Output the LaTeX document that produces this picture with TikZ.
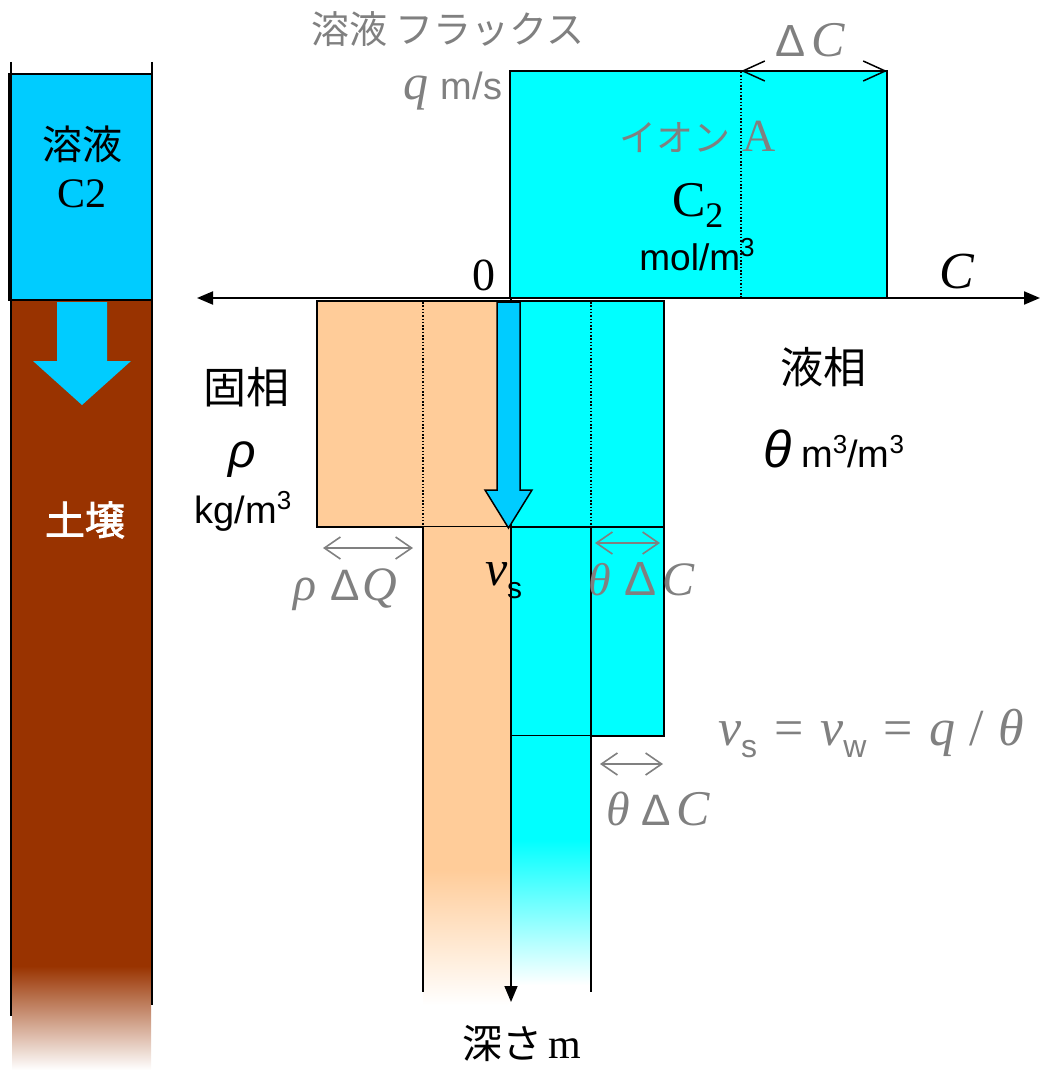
\documentclass[tikz,border=0pt]{standalone}
\usepackage{fontspec}
\setmainfont{Liberation Serif}
\setsansfont{Liberation Sans}
\newfontfamily\jp{Noto Sans CJK JP}
\newfontfamily\jpb[FakeBold=2]{Noto Sans CJK JP}
\usetikzlibrary{arrows.meta}
\newcommand\fsz[1]{\fontsize{#1}{#1}\selectfont}
\newcommand\supthr[2]{\raisebox{#2}{\fsz{#1}3}}
\definecolor{solblue}{RGB}{0,204,255}
\definecolor{liqcyan}{RGB}{0,255,255}
\definecolor{solidor}{RGB}{255,204,153}
\definecolor{soilbr}{RGB}{153,51,0}
\definecolor{tgray}{RGB}{128,128,128}
\begin{document}
\begin{tikzpicture}[x=1pt,y=-1pt,
  lbl/.style={inner sep=0pt,outer sep=0pt},
  boxline/.style={draw=black,line width=1.8pt},
  dotline/.style={black,line width=1.2pt,dash pattern=on 1.5pt off 1.8pt},
  axisarrow/.style={line width=2pt,{Triangle[length=16pt,width=13pt]}-{Triangle[length=16pt,width=13pt]}},
  dimblack/.style={black,line width=1.5pt,{Straight Barb[length=22pt,width=20pt]}-{Straight Barb[length=22pt,width=20pt]}},
  dimgray/.style={tgray,line width=1.6pt,{Straight Barb[length=16pt,width=22pt]}-{Straight Barb[length=16pt,width=22pt]}}
]
\useasboundingbox (0,0) rectangle (1044,1075);

% ---------- left column ----------
\fill[soilbr] (11,300) rectangle (152,967);
\shade[top color=soilbr,bottom color=white] (12,966) rectangle (151,1070);
\fill[solblue] (9,74) rectangle (152,300);
\draw[line width=2pt] (9,74) rectangle (152,300);
\draw[line width=2pt] (11,62) -- (11,1016);
\draw[line width=2pt] (152,62) -- (152,1005);
\fill[solblue] (57,302) -- (107,302) -- (107,361) -- (131,361) -- (82,405) -- (33,361) -- (57,361) -- cycle;
\node[lbl,font=\jp\fsz{40}] (sol) at (82,144) {溶液};
\node[lbl,anchor=base,font=\rmfamily\fsz{42}] (c2l) at (82,208) {C2};
\node[lbl,font=\jpb\fsz{40},text=white] (soil) at (85,520) {土壌};

% ---------- upper liquid box ----------
\fill[liqcyan] (510,71) rectangle (887,298);
\draw[boxline] (510,71) rectangle (887,298);
\draw[dotline] (741,72) -- (741,297);

% ---------- solid phase ----------
\fill[solidor] (317,301) rectangle (511,527);
\draw[boxline] (317,301) rectangle (511,527);
\draw[dotline] (423,302) -- (423,526);
\fill[solidor] (423,527) rectangle (511,870);
\shade[top color=solidor,bottom color=white] (423,869) rectangle (511,1005);
\draw[line width=1.6pt] (423,527) -- (423,992);

% ---------- liquid phase ----------
\fill[liqcyan] (511,301) rectangle (664,527);
\draw[boxline] (511,301) rectangle (664,527);
\draw[dotline] (591,302) -- (591,526);
\fill[liqcyan] (511,527) rectangle (664,736);
\draw[boxline] (511,527) rectangle (591,736);
\draw[boxline] (591,527) rectangle (664,736);
\fill[liqcyan] (511,736) rectangle (591,840);
\shade[top color=liqcyan,bottom color=white] (511,839) rectangle (591,985);
\draw[line width=1.6pt] (591,736) -- (591,992);

% ---------- axes ----------
\coordinate (xl) at (197,298);
\coordinate (xr) at (1040,298);
\coordinate (org) at (511,298);
\coordinate (yb) at (511,1002);
\draw[axisarrow] (xl) -- (xr);
\draw[line width=1.6pt,-{Triangle[length=16pt,width=13pt]}] (org) -- (yb);

% ---------- flow arrow ----------
\draw[fill=solblue,line width=1.5pt] (497,302) -- (520,302) -- (520,490) -- (532,490) -- (508.5,528) -- (485,490) -- (497,490) -- cycle;

% ---------- dimension arrows ----------
\coordinate (dca) at (741,71);
\coordinate (dcb) at (887,71);
\draw[dimblack] (dca) -- (dcb);
\coordinate (rqa) at (323,548);
\coordinate (rqb) at (413,548);
\draw[dimgray] (rqa) -- (rqb);
\coordinate (tca) at (595,543);
\coordinate (tcb) at (660,543);
\draw[dimgray] (tca) -- (tcb);
\coordinate (tda) at (600,764);
\coordinate (tdb) at (663,764);
\draw[dimgray] (tda) -- (tdb);

% ---------- labels ----------
\node[lbl,font=\jp\fsz{38},text=tgray] (flux) at (448,29) {溶液 フラックス};
\node[lbl,anchor=base east,text=tgray] (qms) at (502,100) {{\rmfamily\itshape\fsz{50}q}\hspace{12pt}{\sffamily\fsz{38}m/s}};
\node[lbl,anchor=base,text=tgray] (dC) at (810,57) {{\sffamily\fsz{45}Δ}\hspace{6pt}{\rmfamily\itshape\fsz{50}C}};
\node[lbl,anchor=base west,text=tgray] (ion) at (619,152) {{\jp\fsz{37}イオン}\hspace{12pt}{\rmfamily\fsz{46}A}};
\node[lbl,anchor=base west] (c2) at (672,217) {{\rmfamily\fsz{50}C}\raisebox{-11pt}{\rmfamily\fsz{36}2}};
\node[lbl,anchor=base] (mol) at (697,270) {\sffamily\fsz{37}mol/m\supthr{26}{14pt}};
\node[lbl,anchor=base] (zero) at (484,290) {\rmfamily\fsz{46}0};
\node[lbl,anchor=base] (cax) at (957,288) {\rmfamily\itshape\fsz{52}C};
\node[lbl,font=\jp\fsz{43}] (solid) at (246,387) {固相};
\node[lbl,anchor=base] (rho) at (242,467) {\sffamily\itshape\fsz{48}ρ};
\node[lbl,anchor=base] (kg) at (243,523) {\sffamily\fsz{38}kg/m\supthr{26}{14pt}};
\node[lbl,font=\jp\fsz{43}] (liq) at (823,367) {液相};
\node[lbl,anchor=base west] (theta) at (763,467) {{\sffamily\itshape\fsz{52}θ}\hspace{10pt}{\sffamily\fsz{38}m\supthr{26}{14pt}/m\supthr{26}{14pt}}};
\node[lbl,anchor=base west] (vs) at (485,585) {{\rmfamily\itshape\fsz{50}v}\raisebox{-13pt}{\sffamily\fsz{30}s}};
\node[lbl,anchor=base west,text=tgray] (rdq) at (293,600) {{\rmfamily\itshape\fsz{48}ρ}\hspace{14pt}{\sffamily\fsz{44}Δ}\hspace{3pt}{\rmfamily\itshape\fsz{48}Q}};
\node[lbl,anchor=base west,text=tgray] (tdc1) at (588,595) {{\rmfamily\itshape\fsz{46}θ}\hspace{14pt}{\sffamily\fsz{48}Δ}\hspace{6pt}{\rmfamily\itshape\fsz{48}C}};
\node[lbl,anchor=base west,text=tgray] (tdc2) at (606,825) {{\rmfamily\itshape\fsz{48}θ}\hspace{12pt}{\sffamily\fsz{44}Δ}\hspace{6pt}{\rmfamily\itshape\fsz{50}C}};
\node[lbl,anchor=base west,text=tgray] (eq) at (718,745) {{\rmfamily\itshape\fsz{52}v}\raisebox{-12pt}{\sffamily\fsz{32}s}\hspace{17pt}{\rmfamily\fsz{52}=}\hspace{17pt}{\rmfamily\itshape\fsz{52}v}\raisebox{-12pt}{\sffamily\fsz{32}w}\hspace{17pt}{\rmfamily\fsz{52}=}\hspace{17pt}{\rmfamily\itshape\fsz{52}q}\hspace{14pt}{\rmfamily\fsz{52}/}\hspace{14pt}{\rmfamily\itshape\fsz{52}θ}};
\node[lbl,anchor=base] (depth) at (522,1058) {{\jp\fsz{40}深さ}\hspace{6pt}{\rmfamily\fsz{42}m}};
\end{tikzpicture}
\end{document}
